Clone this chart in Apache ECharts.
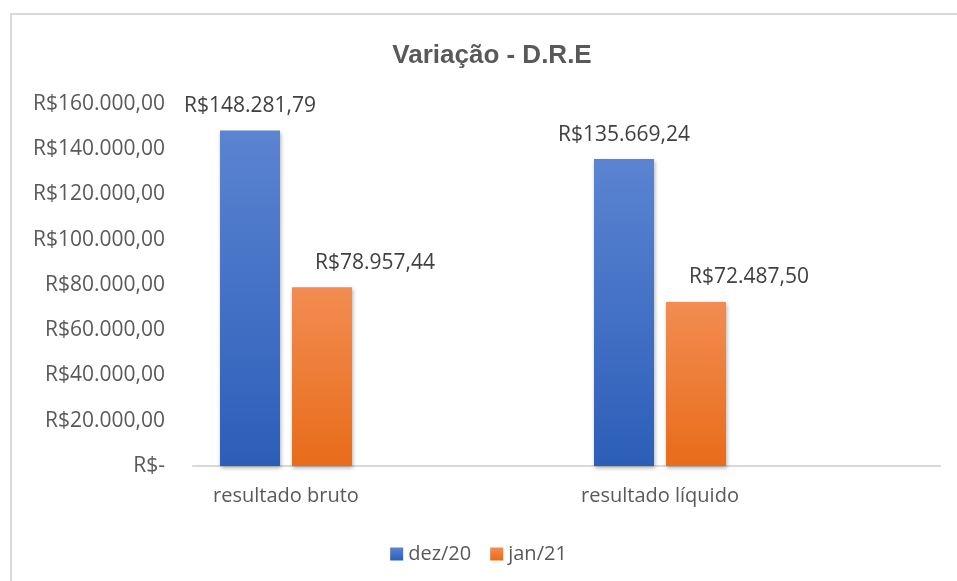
<!DOCTYPE html>
<html>
<head>
<meta charset="utf-8">
<style>
  html, body { margin: 0; padding: 0; background: #fff; }
  #frame { position: absolute; left: 10px; top: 13px; right: -2px; bottom: -2px; border: 2px solid #d9d9d9; }
  #chart { position: absolute; left: 0; top: 0; width: 957px; height: 581px; }
</style>
<script src="https://cdn.jsdelivr.net/npm/echarts@6/dist/echarts.min.js"></script>
</head>
<body>
<div id="frame"></div>
<div id="chart"></div>
<script>
// dados do gráfico
var categorias = ['resultado bruto', 'resultado líquido']
var nomesSeries = ['dez/20', 'jan/21']
var dez20 = [148281.79, 135669.24]
var jan21 = [78957.44, 72487.50]
var eixoMax = 160000
var eixoPasso = 20000

var fonte = '"Open Sans", "Noto Sans", sans-serif'
var cinza = '#595959'

// formata número como R$ no padrão brasileiro
function reais(v) {
  if (v === 0) return 'R$-'
  var partes = v.toFixed(2).split('.')
  var inteiro = partes[0].replace(/\B(?=(\d{3})+(?!\d))/g, '.')
  return 'R$' + inteiro + ',' + partes[1]
}

function gradiente(topo, base) {
  return new echarts.graphic.LinearGradient(0, 0, 0, 1, [
    { offset: 0, color: topo },
    { offset: 1, color: base }
  ])
}

var myChart = echarts.init(document.getElementById('chart'))

var option = {
  animation: false,
  title: {
    text: 'Variação - D.R.E',
    left: 487,
    top: 38,
    textAlign: 'center',
    textStyle: {
      fontFamily: '"Liberation Sans Narrow", "Liberation Sans", sans-serif',
      fontWeight: 'bold',
      fontSize: 26,
      color: cinza
    }
  },
  legend: {
    data: nomesSeries,
    left: 'center',
    top: 539,
    icon: 'rect',
    itemWidth: 13,
    itemHeight: 13,
    itemGap: 19,
    itemStyle: { shadowBlur: 0 },
    textStyle: { fontFamily: fonte, fontSize: 20, color: cinza }
  },
  grid: [
    // grade das barras
    { left: 99, width: 748, top: 104, bottom: 115 },
    // grade só para o eixo Y e a linha do eixo X
    { left: 193, right: 17, top: 104, bottom: 115 }
  ],
  xAxis: [
    {
      type: 'category',
      gridIndex: 0,
      data: categorias,
      axisLine: { show: false },
      axisTick: { show: false },
      axisLabel: { margin: 20, fontFamily: fonte, fontSize: 20, color: cinza }
    },
    {
      type: 'category',
      gridIndex: 1,
      data: categorias,
      axisLine: { show: true, lineStyle: { color: '#d9d9d9', width: 2 } },
      axisTick: { show: false },
      axisLabel: { show: false }
    }
  ],
  yAxis: [
    {
      type: 'value',
      gridIndex: 0,
      min: 0,
      max: eixoMax,
      interval: eixoPasso,
      show: false
    },
    {
      type: 'value',
      gridIndex: 1,
      min: 0,
      max: eixoMax,
      interval: eixoPasso,
      axisLine: { show: false },
      axisTick: { show: false },
      splitLine: { show: false },
      axisLabel: {
        margin: 28,
        fontFamily: fonte,
        fontSize: 21,
        color: cinza,
        formatter: function (v) { return reais(v) }
      }
    }
  ],
  series: [
    {
      name: nomesSeries[0],
      type: 'bar',
      xAxisIndex: 0,
      yAxisIndex: 0,
      data: dez20,
      barWidth: 60,
      barGap: '20%',
      itemStyle: {
        color: gradiente('#5b84d2', '#2c5eb8'),
        shadowBlur: 4,
        shadowOffsetX: 1,
        shadowOffsetY: 2,
        shadowColor: 'rgba(0,0,0,0.3)'
      },
      label: {
        show: true,
        position: 'top',
        distance: 14,
        fontFamily: fonte,
        fontSize: 21,
        color: '#404040',
        formatter: function (p) { return reais(p.value) }
      }
    },
    {
      name: nomesSeries[1],
      type: 'bar',
      xAxisIndex: 0,
      yAxisIndex: 0,
      data: jan21,
      barWidth: 60,
      barGap: '20%',
      itemStyle: {
        color: gradiente('#f28c52', '#e86c19'),
        shadowBlur: 4,
        shadowOffsetX: 1,
        shadowOffsetY: 2,
        shadowColor: 'rgba(0,0,0,0.3)'
      },
      label: {
        show: true,
        position: 'top',
        distance: 14,
        offset: [53, 0],
        fontFamily: fonte,
        fontSize: 21,
        color: '#404040',
        formatter: function (p) { return reais(p.value) }
      }
    }
  ]
}

myChart.setOption(option)
</script>
</body>
</html>
